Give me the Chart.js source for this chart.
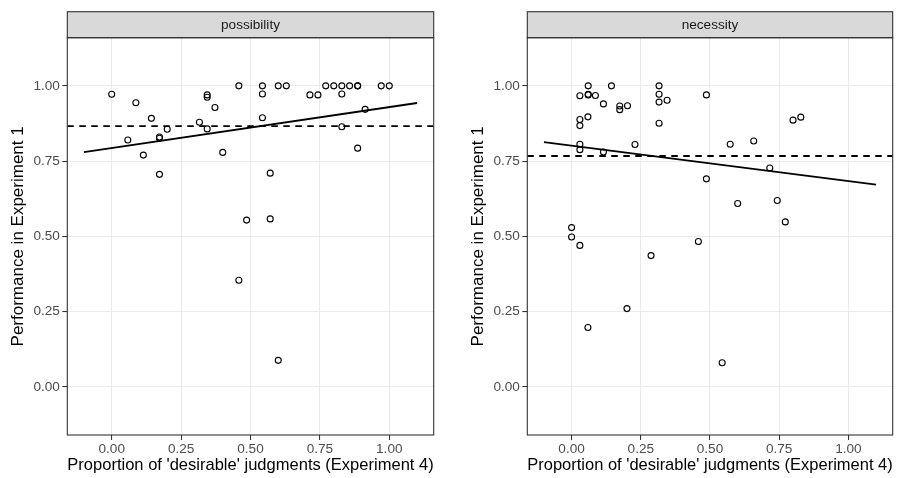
<!DOCTYPE html>
<html><head><meta charset="utf-8">
<script src="https://cdn.jsdelivr.net/npm/chart.js@4"></script>
<style>
html,body{margin:0;padding:0;background:#fff;width:901px;height:478px;overflow:hidden}
canvas{position:absolute;top:0}
#c1{left:0}
#c2{left:460px}
</style></head><body>
<canvas id="c1" width="450" height="478"></canvas>
<canvas id="c2" width="441" height="478"></canvas>
<script>
// ---- data ----
const panelTitles = ['possibility', 'necessity'];
const xTitle = "Proportion of 'desirable' judgments (Experiment 4)";
const yTitle = 'Performance in Experiment 1';
const xTicks = [0, 0.25, 0.5, 0.75, 1];
const yTicks = [0, 0.25, 0.5, 0.75, 1];
const axisLimits = [-0.16, 1.16];

const possibilityX = [0.00, 0.087, 0.143, 0.058, 0.114, 0.172, 0.172, 0.200, 0.172, 0.316, 0.344, 0.344, 0.344, 0.372, 0.400, 0.458, 0.543, 0.543, 0.543, 0.571, 0.600, 0.629, 0.714, 0.743, 0.771, 0.800, 0.829, 0.829, 0.829, 0.857, 0.886, 0.886, 0.886, 0.913, 0.971, 1.000, 0.486, 0.571, 0.458, 0.600];
const possibilityY = [0.972, 0.944, 0.892, 0.820, 0.770, 0.830, 0.826, 0.856, 0.706, 0.879, 0.970, 0.962, 0.857, 0.928, 0.779, 1.000, 1.000, 0.973, 0.894, 0.710, 1.000, 1.000, 0.970, 0.970, 1.000, 1.000, 1.000, 0.973, 0.864, 1.000, 1.000, 1.000, 0.793, 0.922, 1.000, 1.000, 0.554, 0.558, 0.354, 0.088];

const necessityX = [0.060, 0.144, 0.316, 0.030, 0.060, 0.060, 0.086, 0.115, 0.174, 0.174, 0.202, 0.316, 0.316, 0.345, 0.487, 0.030, 0.030, 0.059, 0.316, 0.800, 0.828, 0.030, 0.030, 0.115, 0.229, 0.573, 0.658, 0.716, 0.487, 0.743, 0.600, 0.772, 0.000, 0.000, 0.030, 0.458, 0.287, 0.200, 0.059, 0.544];
const necessityY = [1.000, 1.000, 1.000, 0.967, 0.972, 0.970, 0.968, 0.940, 0.933, 0.921, 0.934, 0.972, 0.946, 0.952, 0.970, 0.888, 0.868, 0.897, 0.876, 0.886, 0.896, 0.806, 0.788, 0.780, 0.805, 0.806, 0.817, 0.727, 0.691, 0.619, 0.609, 0.548, 0.529, 0.498, 0.470, 0.483, 0.436, 0.260, 0.197, 0.080];

const fitX = [-0.1, 1.1];
const possibilityFitY = [0.780, 0.943];
const necessityFitY = [0.813, 0.672];
const possibilityMean = 0.866;
const necessityMean = 0.767;

// ---- drawing ----
const FONT = '"Liberation Sans", Arial, Helvetica, sans-serif';

const panelDecor = {
  id: 'panelDecor',
  afterDraw(chart, args, opts) {
    const {ctx, chartArea: {left, right, top, bottom}} = chart;
    ctx.save();
    const sh = 26;
    ctx.fillStyle = '#D9D9D9';
    ctx.fillRect(left, top - sh, right - left, sh);
    ctx.strokeStyle = '#333333';
    ctx.lineWidth = 1.1;
    ctx.strokeRect(left, top - sh, right - left, sh);
    ctx.strokeRect(left, top, right - left, bottom - top);
    ctx.fillStyle = '#1A1A1A';
    ctx.font = '13.6px ' + FONT;
    ctx.textAlign = 'center';
    ctx.textBaseline = 'middle';
    ctx.fillText(opts.text, (left + right) / 2, top - sh / 2 + 0.5);
    ctx.restore();
  }
};

function makePanel(id, title, xs, ys, fitY, mean, rightPad) {
  const pts = xs.map((x, i) => ({x: x, y: ys[i]}));
  const fit = fitX.map((x, i) => ({x: x, y: fitY[i]}));
  const meanLine = axisLimits.map(x => ({x: x, y: mean}));
  const tickFont = {family: FONT, size: 13.6};
  const gridOpts = {color: '#EBEBEB', lineWidth: 1.07, tickColor: '#333333', tickLength: 5, tickWidth: 1.07};
  new Chart(document.getElementById(id), {
    type: 'scatter',
    data: {
      datasets: [
        {type: 'line', data: fit, borderColor: '#000', borderWidth: 1.8, pointRadius: 0, fill: false, order: 1},
        {type: 'line', data: meanLine, borderColor: '#000', borderWidth: 1.8, borderDash: [6.5, 5.5], pointRadius: 0, fill: false, order: 2},
        {type: 'scatter', data: pts, pointRadius: 3, pointBorderWidth: 1.1, borderColor: '#000', backgroundColor: 'rgba(0,0,0,0)', pointBackgroundColor: 'rgba(0,0,0,0)', pointBorderColor: '#000', order: 3}
      ]
    },
    options: {
      responsive: false,
      animation: false,
      devicePixelRatio: 1,
      events: [],
      layout: {padding: {left: 0, top: 37.7, right: rightPad, bottom: 0}},
      plugins: {legend: {display: false}, tooltip: {enabled: false}, panelDecor: {text: title}},
      scales: {
        x: {
          type: 'linear', min: axisLimits[0], max: axisLimits[1],
          afterBuildTicks: s => { s.ticks = xTicks.map(v => ({value: v})); },
          afterFit: s => { s.height = 43; },
          ticks: {callback: v => Number(v).toFixed(2), color: '#4D4D4D', font: tickFont, padding: 1, maxRotation: 0, autoSkip: false},
          grid: gridOpts,
          border: {display: false},
          title: {display: true, text: xTitle, color: '#000', font: {family: FONT, size: 17}, padding: {top: 0, bottom: 2}}
        },
        y: {
          type: 'linear', min: axisLimits[0], max: axisLimits[1],
          afterBuildTicks: s => { s.ticks = yTicks.map(v => ({value: v})); },
          afterFit: s => { s.width = 67.3; },
          ticks: {callback: v => Number(v).toFixed(2), color: '#4D4D4D', font: tickFont, padding: 2.4, autoSkip: false},
          grid: gridOpts,
          border: {display: false},
          title: {display: true, text: yTitle, color: '#000', font: {family: FONT, size: 17}, padding: {top: 8.5, bottom: 0}}
        }
      }
    },
    plugins: [panelDecor]
  });
}

makePanel('c1', panelTitles[0], possibilityX, possibilityY, possibilityFitY, possibilityMean, 16.3);
makePanel('c2', panelTitles[1], necessityX, necessityY, necessityFitY, necessityMean, 8.3);
</script>
</body></html>
